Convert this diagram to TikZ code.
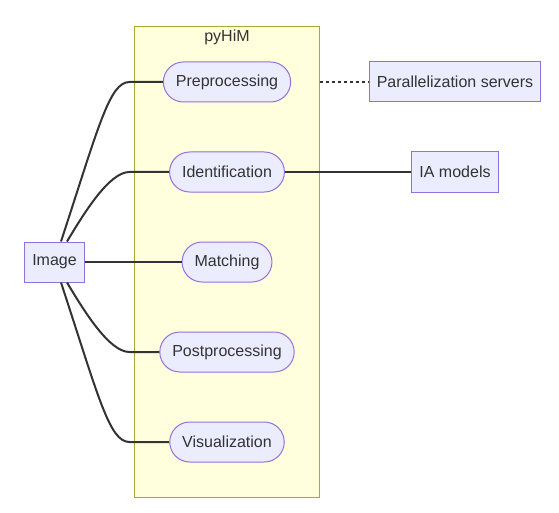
\documentclass[tikz,border=0pt]{standalone}
\usepackage{fontspec}
\setmainfont{Liberation Sans}
\usetikzlibrary{calc}
\definecolor{nodefill}{HTML}{ECECFF}
\definecolor{nodeline}{HTML}{9370DB}
\definecolor{clusterfill}{HTML}{FFFFDE}
\definecolor{clusterline}{HTML}{AAAA33}
\definecolor{textgray}{HTML}{333333}
\tikzstyle{stadium}=[rectangle,rounded corners=20pt,fill=nodefill,draw=nodeline,line width=1pt,minimum height=40pt,inner xsep=12.5pt,text=textgray,font=\fontsize{16}{19}\selectfont]
\tikzstyle{box}=[rectangle,fill=nodefill,draw=nodeline,line width=1pt,minimum height=40pt,inner xsep=7.5pt,text=textgray,font=\fontsize{16}{19}\selectfont]
\tikzstyle{cluster}=[rectangle,fill=clusterfill,draw=clusterline,line width=1pt,inner sep=0pt,minimum width=184.5pt,minimum height=470pt]
\tikzstyle{link} = [draw=textgray,line width=2pt]
\tikzstyle{dottedlink} = [link,dash pattern=on 3pt off 3pt]

\begin{document}
\begin{tikzpicture}[x=1pt,y=-1pt]
    \useasboundingbox (0,0) rectangle (559,513);
    % the pyHiM box first, so the steps sit on top of it
    \node[cluster] (pyhim) at (226.75,262) {};
    \node[text=textgray,font=\fontsize{16}{19}\selectfont] (title) at (227,37) {pyHiM};

    % steps inside pyHiM
    \foreach \pos/\name/\label in {{(227,82)/pre/Preprocessing}, {(227,172)/ident/Identification},
    {(227,262)/match/Matching}, {(227,352)/post/Postprocessing}, {(227,442)/visu/Visualization}}
        \node[stadium] (\name) at \pos {\label};

    % outside boxes
    \foreach \pos/\name/\label in {{(54.5,262)/image/Image}, {(455,82)/servers/Parallelization servers},
    {(455,172)/models/IA models}}
        \node[box] (\name) at \pos {\label};

    % links from the image to the steps, bending just left of pyHiM
    \path[link] ([xshift=6.5pt]image.north) .. controls +(38,-116) and +(-20,0) .. ($(pyhim.west |- pre.west)+(-4.5,0)$) -- (pre.west);
    \path[link] ([xshift=12.5pt]image.north) .. controls +(18,-30) and +(-20,0) .. ($(pyhim.west |- ident.west)+(-4.5,0)$) -- (ident.west);
    \path[link] (image) -- (match);
    \path[link] ([xshift=12.5pt]image.south) .. controls +(18,30) and +(-20,0) .. ($(pyhim.west |- post.west)+(-4.5,0)$) -- (post.west);
    \path[link] ([xshift=6.5pt]image.south) .. controls +(38,116) and +(-20,0) .. ($(pyhim.west |- visu.west)+(-4.5,0)$) -- (visu.west);

    % links going out of pyHiM
    \path[link] (ident) -- (models);
    \path[dottedlink] (pyhim.east |- pre.east) -- (servers);
\end{tikzpicture}
\end{document}
